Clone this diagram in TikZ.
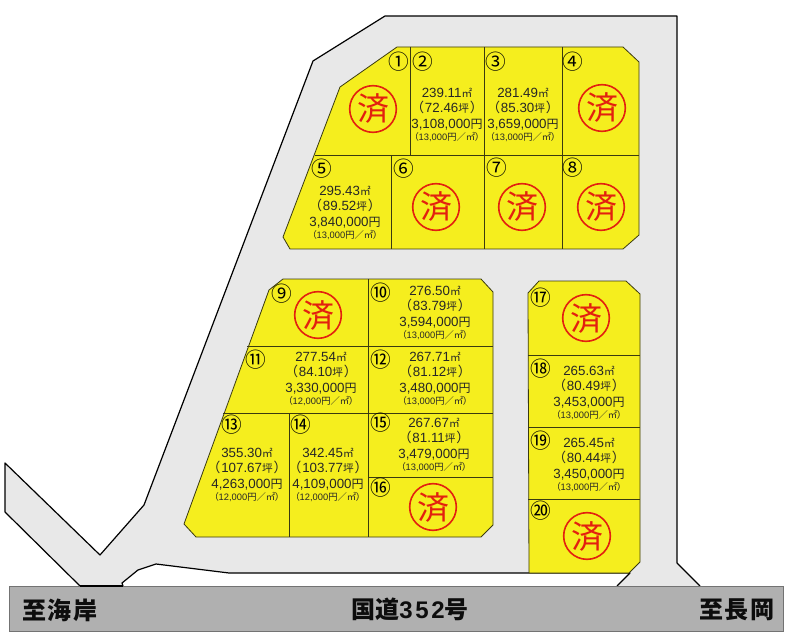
\documentclass[tikz,border=0pt]{standalone}
\usepackage{fontspec}
\setmainfont{Liberation Sans}
\newfontfamily\cjk[RawFeature=+palt]{Noto Sans CJK JP}
\definecolor{lotyellow}{HTML}{F5EE1E}
\definecolor{roadgray}{HTML}{E8E8E8}
\definecolor{bargray}{HTML}{B0B0B0}
\definecolor{stampred}{HTML}{E3200F}
\definecolor{lotline}{HTML}{3A3A10}
\newcommand{\lotinfo}[7]{%
  \node[info] (info#1) at (#2,#3) {#4{\cjk\fontsize{8}{7}\selectfont ㎡}\\
  {\cjk （}\hspace{1pt}#5{\cjk\fontsize{8}{7}\selectfont 坪}\hspace{1pt}{\cjk ）}\\
  #6{\cjk\fontsize{9}{7}\selectfont 円}\\[-2.5pt]
  \fontsize{7}{8}\selectfont {\cjk （}#7{\cjk 円／㎡）}};}
\newcommand{\stampmark}[3]{\node[stamp] (stamp#1) at (#2,#3) {済};}
\newcommand{\lotnum}[4]{\node[num] (num#1) at (#2,#3) {#4};}
\tikzset{
  lotshape/.style={fill=lotyellow,draw=lotline,line width=0.6pt},
  divider/.style={draw=lotline,line width=0.6pt},
  roadedge/.style={draw=black,line width=0.9pt},
  info/.style={align=center,inner sep=0pt,text=black!85,font=\fontsize{10}{11.6}\selectfont},
  stamp/.style={circle,draw=stampred,line width=1.2pt,text=stampred,minimum size=35pt,inner sep=0pt,font=\cjk\fontsize{24}{24}\selectfont},
  num/.style={inner sep=0pt,font=\cjk\fontsize{15.5}{15.5}\selectfont,text=black},
  bartext/.style={inner sep=0pt,font=\cjk\bfseries\fontsize{18}{18}\selectfont,text=black!95},
}
\begin{document}
\begin{tikzpicture}[x=0.75pt,y=-0.75pt]
\useasboundingbox (0,0) rectangle (800,638);
% road surface
\coordinate (r1) at (385,16);
\coordinate (r2) at (677,16);
\coordinate (r3) at (677,563);
\coordinate (r4) at (700,586);
\coordinate (r5) at (617,586);
\coordinate (r6) at (630,573);
\coordinate (r7) at (229,573);
\coordinate (r8) at (156,564);
\coordinate (r9) at (138,570);
\coordinate (r10) at (122,583);
\coordinate (r11) at (123,586);
\coordinate (r12) at (80,586);
\coordinate (r13) at (5,512);
\coordinate (r14) at (5,463);
\coordinate (r15) at (100,555);
\coordinate (r16) at (144,505);
\coordinate (r17) at (313,61);
\fill[roadgray] (r1)--(r2)--(r3)--(r4)--(r5)--(r6)--(r7)--(r8)--(r9)--(r10)--(r11)--(r12)--(r13)--(r14)--(r15)--(r16)--(r17)--cycle;
\draw[roadedge,line join=round] (r5)--(r6)--(r7)--(r8)--(r9)--(r10)--(r11);
\draw[roadedge,line join=round] (r12)--(r13)--(r14)--(r15)--(r16)--(r17)--(r1)--(r2)--(r3)--(r4);
% bottom bar
\node[draw=black!55,fill=bargray,line width=0.7pt,minimum width=580.5pt,minimum height=33.5pt,inner sep=0pt,anchor=north west] (bar) at (9,586) {};
\draw[black,line width=0.9pt] (r11)--(r12);
\node[bartext] (west) at (60,610) {至\hspace{1pt}海\hspace{1pt}岸};
\node[bartext] (mid) at (410,609) {国道{\rmfamily\bfseries 3\hspace{2pt}5\hspace{2pt}2}号};
\node[bartext] (east) at (737,610) {至\hspace{1pt}長\hspace{1pt}岡};
% block A
\draw[lotshape,line join=round] (397,47)--(623,47)--(639,62)--(639,235)--(623,249)--(290,249)--(283,237)--(340,87)--cycle;
\draw[divider] (410,47)--(410,155) (484,47)--(484,249) (562,47)--(562,249) (315,155)--(639,155) (391,155)--(391,249);
% block B
\draw[lotshape,line join=round] (283,279)--(481,279)--(493,292)--(493,525)--(481,537)--(196,537)--(184,524)--(269,290)--cycle;
\draw[divider] (368,279)--(368,537) (247,346)--(493,346) (223,413)--(493,413) (368,477)--(493,477) (289,413)--(289,537);
% block C
\draw[lotshape,line join=round] (528,293)--(539,281)--(626,281)--(640,294)--(640,562)--(629,573)--(529,573)--cycle;
\draw[divider] (528,355)--(640,355) (528,427)--(640,427) (528,499)--(640,499);
% stamps
\stampmark{1}{373}{109}
\stampmark{4}{602}{108}
\stampmark{6}{436}{207}
\stampmark{7}{522}{207}
\stampmark{8}{601}{207}
\stampmark{9}{318}{315}
\stampmark{16}{433}{507}
\stampmark{17}{586}{318}
\stampmark{20}{587}{536}
% lot data
\lotinfo{2}{447}{115}{239.11}{72.46}{3,108,000}{13,000}
\lotinfo{3}{523}{115}{281.49}{85.30}{3,659,000}{13,000}
\lotinfo{5}{345}{213}{295.43}{89.52}{3,840,000}{13,000}
\lotinfo{10}{435}{313}{276.50}{83.79}{3,594,000}{13,000}
\lotinfo{11}{321}{379}{277.54}{84.10}{3,330,000}{12,000}
\lotinfo{12}{435}{379}{267.71}{81.12}{3,480,000}{13,000}
\lotinfo{13}{247}{475}{355.30}{107.67}{4,263,000}{12,000}
\lotinfo{14}{328}{475}{342.45}{103.77}{4,109,000}{12,000}
\lotinfo{15}{434}{445}{267.67}{81.11}{3,479,000}{13,000}
\lotinfo{18}{589}{393}{265.63}{80.49}{3,453,000}{13,000}
\lotinfo{19}{589}{465}{265.45}{80.44}{3,450,000}{13,000}
% lot numbers
\lotnum{1}{399}{62}{①}
\lotnum{2}{423}{62}{②}
\lotnum{3}{496}{62}{③}
\lotnum{4}{573}{62}{④}
\lotnum{5}{322}{169}{⑤}
\lotnum{6}{404}{169}{⑥}
\lotnum{7}{497}{168}{⑦}
\lotnum{8}{573}{168}{⑧}
\lotnum{9}{282}{294}{⑨}
\lotnum{10}{381}{293}{⑩}
\lotnum{11}{256}{360}{⑪}
\lotnum{12}{381}{360}{⑫}
\lotnum{13}{232}{425}{⑬}
\lotnum{14}{301}{425}{⑭}
\lotnum{15}{381}{423}{⑮}
\lotnum{16}{381}{488}{⑯}
\lotnum{17}{541}{298}{⑰}
\lotnum{18}{541}{369}{⑱}
\lotnum{19}{541}{441}{⑲}
\lotnum{20}{541}{511}{⑳}
\end{tikzpicture}
\end{document}
